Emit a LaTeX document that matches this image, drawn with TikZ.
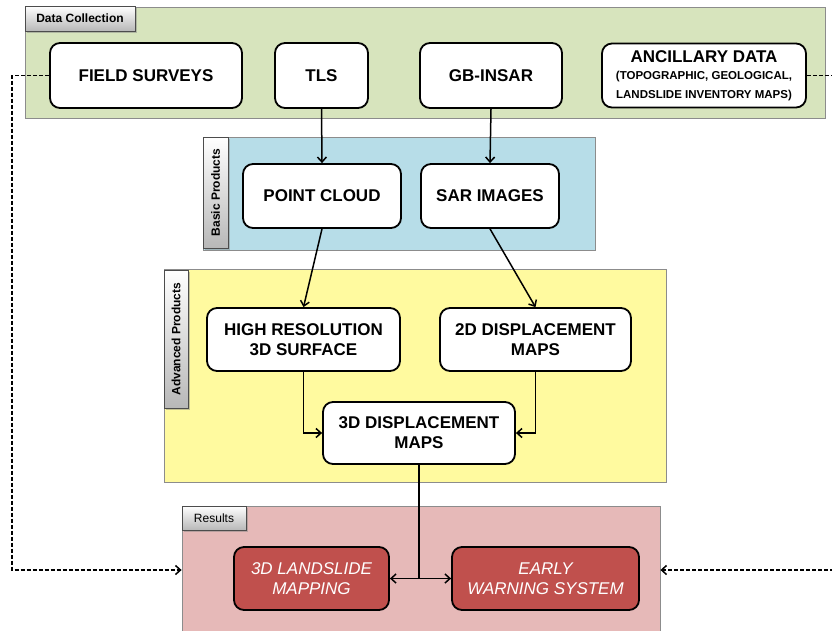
\documentclass[tikz,border=0pt]{standalone}
\usepackage{fontspec}
\setmainfont{Liberation Sans}
\usetikzlibrary{arrows.meta,shadows,calc}
\definecolor{pgreen}{HTML}{D7E4BD}
\definecolor{pblue}{HTML}{B7DDE8}
\definecolor{pyellow}{HTML}{FFFA9F}
\definecolor{ppink}{HTML}{E6B9B8}
\definecolor{bred}{HTML}{C0504D}
\definecolor{pborder}{HTML}{8C8C8C}
\begin{document}
\begin{tikzpicture}[x=1pt,y=-1pt,
  panel/.style={draw=pborder, line width=0.8pt, inner sep=0pt},
  tab/.style={draw=black!70, line width=0.8pt, top color=white, bottom color=black!28,
     drop shadow={shadow xshift=1.5pt, shadow yshift=-1.5pt, opacity=0.45},
     inner sep=0pt, font=\bfseries\fontsize{12}{14}\selectfont},
  box/.style={draw=black, line width=1.8pt, fill=white, rounded corners=10pt,
     align=center, inner sep=0pt, font=\bfseries\fontsize{17}{20}\selectfont},
  redbox/.style={box, fill=bred, text=white, font=\itshape\fontsize{17}{20}\selectfont},
  sz/.style n args={2}{minimum width=#1pt, minimum height=#2pt},
  conn/.style={line width=1.5pt, -{Straight Barb[length=5pt,width=9pt]}},
  dconn/.style={line width=1.5pt, {Straight Barb[length=5pt,width=9pt]}-{Straight Barb[length=5pt,width=9pt]}},
  dashline/.style={line width=1.5pt, dash pattern=on 4pt off 2pt, -{Straight Barb[length=5pt,width=9pt]}}
]
\useasboundingbox (0,0) rectangle (832,630);

% panels
\node[panel, fill=pgreen, sz={800}{111}] (dcp) at (425,62.5) {};
\node[panel, fill=pblue, sz={392}{113}] (bpp) at (399,193.5) {};
\node[panel, fill=pyellow, sz={502}{213}] (app) at (415,375.5) {};
\node[panel, fill=ppink, sz={478}{128}] (rs) at (421,570) {};

% tabs
\node[tab, sz={110}{25}] (dct) at (80,18.5) {Data Collection};
\node[tab, rotate=90, sz={111}{25}] (bpt) at (215.5,192.5) {Basic Products};
\node[tab, rotate=90, sz={138}{24}] (apt) at (176,339) {Advanced Products};
\node[tab, sz={64}{24}, font=\fontsize{12}{14}\selectfont] (rst) at (214,518) {Results};

% data collection
\node[box, sz={192}{65}] (fs) at (146,75.5) {FIELD SURVEYS};
\node[box, sz={93}{65}] (tls) at (321.5,75.5) {TLS};
\node[box, sz={142}{65}] (gb) at (491,75.5) {GB-INSAR};
\node[box, sz={204}{64}] (anc) at (704,75.5) {ANCILLARY DATA\\[-3pt]
  {\fontsize{11.5}{12}\selectfont (TOPOGRAPHIC, GEOLOGICAL,}\\[-1pt]
  {\fontsize{11.5}{12}\selectfont LANDSLIDE INVENTORY MAPS)}};

% basic products
\node[box, sz={158}{64}] (pc) at (322,196) {POINT CLOUD};
\node[box, sz={138}{64}] (sar) at (490,196) {SAR IMAGES};

% advanced products
\node[box, sz={193}{63}] (hr) at (303.5,339.5) {HIGH RESOLUTION\\3D SURFACE};
\node[box, sz={191}{63}] (dd) at (535.5,339.5) {2D DISPLACEMENT\\MAPS};
\node[box, sz={192}{62}] (d3) at (419,433) {3D DISPLACEMENT\\MAPS};

% results
\node[redbox, sz={155}{63}] (lm) at (311.5,578.5) {3D LANDSLIDE\\MAPPING};
\node[redbox, sz={187}{63}] (ews) at (545.5,578.5) {EARLY\\WARNING SYSTEM};

% connectors
\draw[conn] (tls.south) -- (pc.north);
\draw[conn] (gb.south) -- (sar.north);
\draw[conn] (pc.south) -- (hr.north);
\draw[conn] (sar.south) -- (dd.north);
\draw[conn] (hr.south) |- (d3.west);
\draw[conn] (dd.south) |- (d3.east);
\draw[line width=1.5pt] (d3.south) -- (d3.south |- lm.east);
\draw[dconn] (lm.east) -- (ews.west);

\draw[dashline] (fs.west) -- ++(-37,0) |- (rs.west);
\draw[dashline] (anc.east) -- (840,75.5) |- (rs.east);
\end{tikzpicture}
\end{document}
